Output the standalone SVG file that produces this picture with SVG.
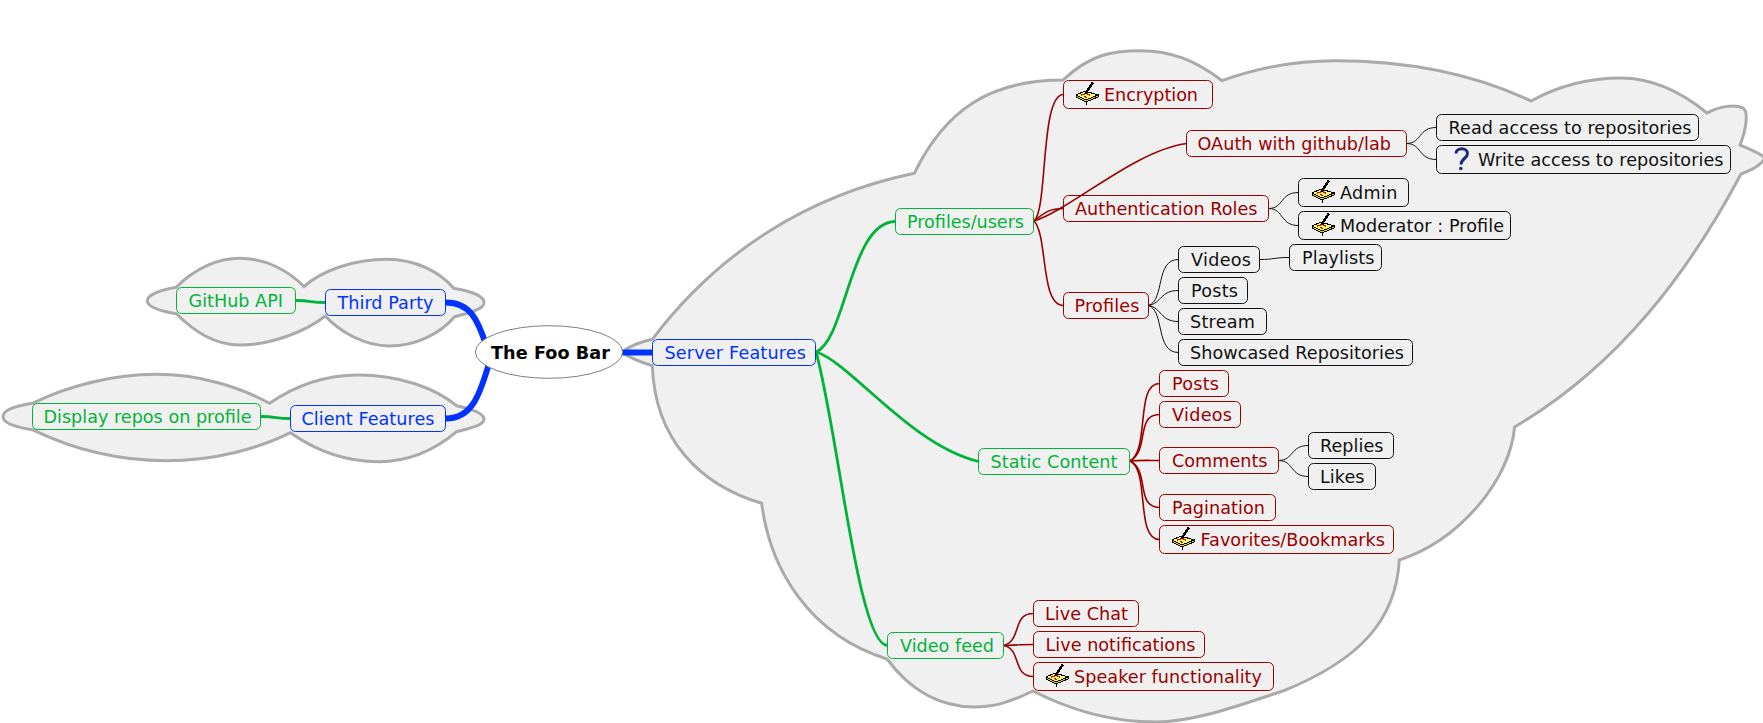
<svg xmlns="http://www.w3.org/2000/svg" xmlns:xlink="http://www.w3.org/1999/xlink" width="1763" height="723" viewBox="0 0 1763 723">
<style>
text{font-family:"DejaVu Sans","Liberation Sans",sans-serif;font-size:17.6px}
.cloud{fill:#f0f0f0;stroke:#aaa;stroke-width:3;stroke-linejoin:miter}
rect{fill:none;stroke-width:1}
.b rect{stroke:#0033ff}.b text{fill:#0033ff}
.g rect{stroke:#00b439}.g text{fill:#00b439}
.r rect{stroke:#990000}.r text{fill:#990000}
.k rect{stroke:#111}.k text{fill:#111}
#connectors path{fill:none}
.e6{stroke:#0033ff;stroke-width:6}
.e3{stroke:#00b439;stroke-width:2.8}
.e2{stroke:#990000;stroke-width:1.6}
.e1{stroke:#111;stroke-width:1}
</style>
<defs>
<g id="pin" shape-rendering="crispEdges">
<path d="M1,15 L11,20 L23,15 L23,13 L11,18 L1,13Z" fill="#e8d800" stroke="#000" stroke-width="1"/>
<path d="M1,13 L10,9 L23,13 L11,18Z" fill="#ffff66" stroke="#000" stroke-width="1"/>
<path d="M10,12 L18,0.5" stroke="#000" stroke-width="2.5" fill="none"/>
<path d="M6,13 L10,12 M12,12 L15,13 M10,14 L11,16" stroke="#e00000" stroke-width="1.5" fill="none"/>
<path d="M11,20 V23" stroke="#000" stroke-width="1"/>
</g>
</defs>
<g id="clouds">
<path class="cloud" d="M652.3,339.3C720,250 810,195 914.3,173.3C945,110 990,80 1063,80C1090,55 1110,50.7 1141,50.7C1170,50.7 1195,60 1222,80.7C1260,67 1300,60.7 1335,60.7C1400,60.7 1470,72 1531,101C1560,85 1590,78 1621,78C1655,78 1685,95 1707,113C1720,106 1735,104 1743,108C1749,112 1746,130 1740,145C1752,150 1762,154 1765,158C1762,164 1752,170 1741,174C1690,270 1620,365 1514.6,427C1510,480 1460,540 1399.3,560C1396,620 1360,660 1283,691C1240,705 1195,722 1156,722C1110,722 1070,710 1033,691C1010,702 995,707 974,707C940,707 910,690 887,659C810,635 770,570 761.7,503.3C700,485 655,440 652.3,365.7C640,362 630,358 622,352C630,346 640,342 652.3,339.3Z"/>
<path class="cloud" d="M176.3,287.3C195,268 218,258.3 240,258.3C265,258.3 288,270 304,286.7C322,270 355,259.3 387,259.3C415,259.3 440,272 453.7,288.3C470,291 484,296 484,302.7C484,309 470,313 454.5,316.7C440,334 415,346 389.3,346C365,346 340,332 325.3,316C305,332 270,345 240,345C215,345 195,332 176.3,313.7C160,311 147.3,307 147.3,300.7C147.3,295 160,290 176.3,287.3Z"/>
<path class="cloud" d="M32.4,403.3C70,385 115,374.3 155.7,374.3C200,374.3 240,387 269.4,403.3C295,386 325,375 357.7,375C400,375 435,388 456.6,405.7C472,409 484,413 484,419C484,425 472,428 456.6,431.7C435,450 410,461.7 378.8,461.7C345,461.7 315,450 290.4,432.7C260,448 215,460.7 166.2,460.7C115,460.7 70,448 32.4,429.7C15,427 3,423 3,416.7C3,410 15,406 32.4,403.3Z"/>
</g>
<g id="connectors">
<path class="e6" d="M446,302.5C470,302.5 478,320 486,345"/>
<path class="e6" d="M446,418.5C472,418.5 480,395 490,360"/>
<path class="e6" d="M615,352.5H653"/>
<path class="e3" d="M296,300.5C312,300.5 310,302.5 325.5,302.5"/>
<path class="e3" d="M261,416.5C277,416.5 275,418.5 290.5,418.5"/>
<path class="e3" d="M816,352C846,340 850,221.5 895.5,221.5"/>
<path class="e3" d="M816,352C850,362 910,445 978.5,461.5"/>
<path class="e3" d="M816,352C838,430 858,645.5 887.5,645.5"/>
<path class="e2" d="M1034,221C1048,210 1040,94.5 1063.5,94.5"/>
<path class="e2" d="M1034,221C1045,212 1050,208.5 1063.5,208.5"/>
<path class="e2" d="M1034,221C1070,210 1135,150 1187,143.5"/>
<path class="e2" d="M1034,221C1048,235 1040,305.5 1063.5,305.5"/>
<path class="e2" d="M1130,461C1150,450 1135,383.5 1159.5,383.5"/>
<path class="e2" d="M1130,461C1150,450 1135,414.5 1159.5,414.5"/>
<path class="e2" d="M1130,461C1140,460 1150,460.5 1159.5,460.5"/>
<path class="e2" d="M1130,461C1150,470 1135,507.5 1159.5,507.5"/>
<path class="e2" d="M1130,461C1150,470 1135,539.5 1159.5,539.5"/>
<path class="e2" d="M1004,645.5C1022,640 1012,613.5 1033.5,613.5"/>
<path class="e2" d="M1004,645.5C1015,645 1025,644.5 1033.5,644.5"/>
<path class="e2" d="M1004,645.5C1022,650 1012,676.5 1033.5,676.5"/>
<path class="e1" d="M1407,143.5C1422,143 1418,127.5 1436.5,127.5"/>
<path class="e1" d="M1407,143.5C1422,144 1418,159.5 1436.5,159.5"/>
<path class="e1" d="M1269,208.5C1284,208 1280,192.5 1298.5,192.5"/>
<path class="e1" d="M1269,208.5C1284,209 1280,225.5 1298.5,225.5"/>
<path class="e1" d="M1148.5,305.5C1165,300 1155,259.5 1178.5,259.5"/>
<path class="e1" d="M1148.5,305.5C1162,303 1160,290.5 1178.5,290.5"/>
<path class="e1" d="M1148.5,305.5C1162,308 1160,321.5 1178.5,321.5"/>
<path class="e1" d="M1148.5,305.5C1165,311 1155,352.5 1178.5,352.5"/>
<path class="e1" d="M1259.5,259.5C1275,259.5 1273,257.5 1289.5,257.5"/>
<path class="e1" d="M1279,460.5C1294,460 1290,445.5 1308.5,445.5"/>
<path class="e1" d="M1279,460.5C1294,461 1290,476.5 1308.5,476.5"/>
</g>
<g id="root"><ellipse cx="549" cy="352" rx="73.6" ry="26.3" fill="#fff" stroke="#808080" stroke-width="1"/><text x="491" y="358.5" font-weight="700" fill="#000" textLength="119">The Foo Bar</text></g>
<g id="server" class="b"><rect x="652.5" y="339.5" width="163" height="26" rx="5"/><text x="664.5" y="358.5" textLength="141.5">Server Features</text></g>
<g id="third" class="b"><rect x="325.5" y="289.5" width="120" height="26" rx="5"/><text x="337.5" y="308.5" textLength="96">Third Party</text></g>
<g id="client" class="b"><rect x="290.5" y="405.5" width="155" height="26" rx="5"/><text x="301.5" y="424.5" textLength="133">Client Features</text></g>
<g id="github" class="g"><rect x="176.5" y="287.5" width="119" height="26" rx="5"/><text x="188.5" y="306.5" textLength="94.5">GitHub API</text></g>
<g id="display" class="g"><rect x="32.5" y="403.5" width="228" height="26" rx="5"/><text x="43.5" y="422.5" textLength="208">Display repos on profile</text></g>
<g id="profusers" class="g"><rect x="895.5" y="208.5" width="138" height="26" rx="5"/><text x="907" y="227.5" textLength="117">Profiles/users</text></g>
<g id="static" class="g"><rect x="978.5" y="448.5" width="151" height="26" rx="5"/><text x="990.5" y="467.5" textLength="127">Static Content</text></g>
<g id="videofeed" class="g"><rect x="887.5" y="632.5" width="116" height="26" rx="5"/><text x="900" y="651.5" textLength="94">Video feed</text></g>
<g id="encryption" class="r"><rect x="1063.5" y="80.5" width="149" height="28" rx="5"/><use xlink:href="#pin" href="#pin" x="1075" y="82"/><text x="1104" y="100.5" textLength="94">Encryption</text></g>
<g id="oauth" class="r"><rect x="1186.5" y="130.5" width="220" height="26" rx="5"/><text x="1197.5" y="149.5" textLength="193.5">OAuth with github/lab</text></g>
<g id="authroles" class="r"><rect x="1063.5" y="195.5" width="205" height="26" rx="5"/><text x="1075" y="214.5" textLength="182.5">Authentication Roles</text></g>
<g id="profiles" class="r"><rect x="1063.5" y="292.5" width="85" height="26" rx="5"/><text x="1074.5" y="311.5" textLength="65">Profiles</text></g>
<g id="sposts" class="r"><rect x="1159.5" y="370.5" width="69" height="26" rx="5"/><text x="1172" y="389.5" textLength="47">Posts</text></g>
<g id="svideos" class="r"><rect x="1159.5" y="401.5" width="81" height="26" rx="5"/><text x="1172" y="420.5" textLength="60">Videos</text></g>
<g id="comments" class="r"><rect x="1159.5" y="447.5" width="119" height="26" rx="5"/><text x="1172" y="466.5" textLength="95.5">Comments</text></g>
<g id="pagination" class="r"><rect x="1159.5" y="494.5" width="116" height="26" rx="5"/><text x="1172" y="513.5" textLength="93">Pagination</text></g>
<g id="favorites" class="r"><rect x="1159.5" y="525.5" width="234" height="28" rx="5"/><use xlink:href="#pin" href="#pin" x="1171" y="527"/><text x="1200.5" y="545.5" textLength="184.5">Favorites/Bookmarks</text></g>
<g id="livechat" class="r"><rect x="1033.5" y="600.5" width="105" height="26" rx="5"/><text x="1045" y="619.5" textLength="83">Live Chat</text></g>
<g id="livenotif" class="r"><rect x="1033.5" y="631.5" width="171" height="26" rx="5"/><text x="1045.5" y="650.5" textLength="150">Live notifications</text></g>
<g id="speaker" class="r"><rect x="1033.5" y="662.5" width="240" height="28" rx="5"/><use xlink:href="#pin" href="#pin" x="1045" y="664"/><text x="1074" y="682.5" textLength="188">Speaker functionality</text></g>
<g id="read" class="k"><rect x="1436.5" y="114.5" width="262" height="26" rx="5"/><text x="1448.5" y="133.5" textLength="243">Read access to repositories</text></g>
<g id="write" class="k"><rect x="1436.5" y="145.5" width="294" height="28" rx="5"/><path d="M1456,153.5C1456,147 1467.5,147 1467.5,153.5C1467.5,158.5 1461.5,158 1461,164.5" fill="none" stroke="#1a2a80" stroke-width="3"/><circle cx="1460.8" cy="168.5" r="1.8" fill="#1a2a80"/><text x="1478" y="165.5" textLength="245.5">Write access to repositories</text></g>
<g id="admin" class="k"><rect x="1298.5" y="178.5" width="110" height="28" rx="5"/><use xlink:href="#pin" href="#pin" x="1311" y="180"/><text x="1340" y="198.5" textLength="57.5">Admin</text></g>
<g id="moderator" class="k"><rect x="1298.5" y="211.5" width="212" height="28" rx="5"/><use xlink:href="#pin" href="#pin" x="1311" y="213"/><text x="1340" y="231.5" textLength="164">Moderator : Profile</text></g>
<g id="pvideos" class="k"><rect x="1178.5" y="246.5" width="81" height="26" rx="5"/><text x="1191" y="265.5" textLength="60">Videos</text></g>
<g id="playlists" class="k"><rect x="1289.5" y="244.5" width="92" height="26" rx="5"/><text x="1302" y="263.5" textLength="72.5">Playlists</text></g>
<g id="pposts" class="k"><rect x="1178.5" y="277.5" width="69" height="26" rx="5"/><text x="1191" y="296.5" textLength="47">Posts</text></g>
<g id="stream" class="k"><rect x="1178.5" y="308.5" width="88" height="26" rx="5"/><text x="1190" y="327.5" textLength="65">Stream</text></g>
<g id="showcased" class="k"><rect x="1178.5" y="339.5" width="234" height="26" rx="5"/><text x="1190" y="358.5" textLength="214">Showcased Repositories</text></g>
<g id="replies" class="k"><rect x="1308.5" y="432.5" width="85" height="26" rx="5"/><text x="1320" y="451.5" textLength="63.5">Replies</text></g>
<g id="likes" class="k"><rect x="1308.5" y="463.5" width="67" height="26" rx="5"/><text x="1320" y="482.5" textLength="44.5">Likes</text></g>
</svg>
